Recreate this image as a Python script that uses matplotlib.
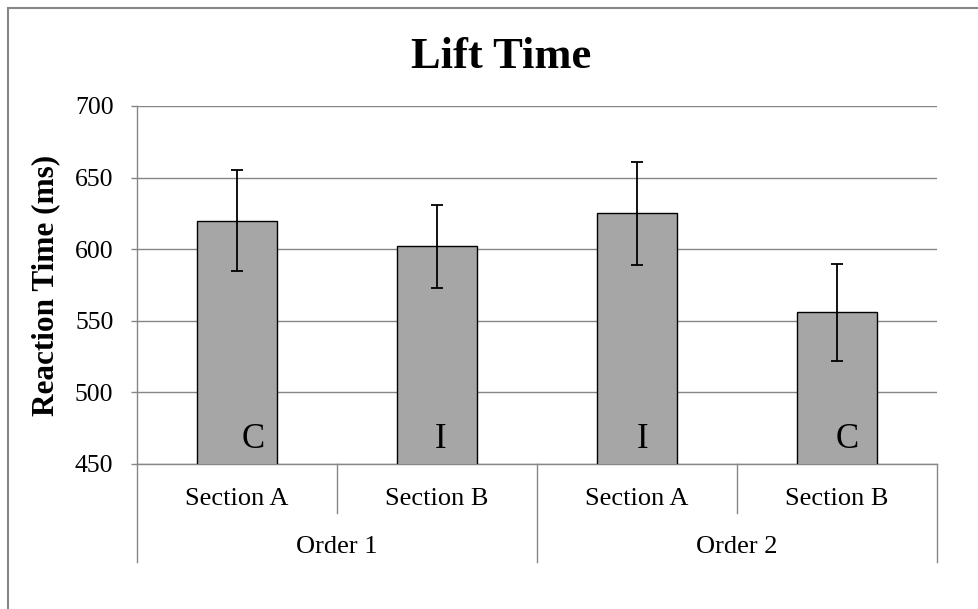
import matplotlib
matplotlib.use("Agg")
import matplotlib.pyplot as plt
from matplotlib.patches import Rectangle

# data
sections = ["Section A", "Section B", "Section A", "Section B"]
orders = ["Order 1", "Order 2"]
means = [620, 602, 625, 556]
errors = [35, 29, 36, 34]
conditions = ["C", "I", "I", "C"]
label_dx = [0.08, 0.02, 0.03, 0.05]

plt.rcParams['font.family'] = ['Liberation Serif', 'DejaVu Serif']

grey = "#868686"
fig = plt.figure(figsize=(9.79, 6.09), dpi=100)
ax = fig.add_axes([137 / 979, 1 - 464 / 609, 800 / 979, 358 / 609])

x = list(range(len(means)))
ax.bar(x, means, width=0.4, color="#a6a6a6", edgecolor="black", linewidth=1.0, zorder=3)
ax.errorbar(x, means, yerr=errors, fmt="none", ecolor="black", elinewidth=1.3,
            capsize=4.5, capthick=1.3, zorder=4)

for i, c in enumerate(conditions):
    ax.text(i + label_dx[i], 461.5, c, ha="center", va="baseline", fontsize=25, zorder=5)

ax.set_xlim(-0.5, len(means) - 0.5)
ax.set_ylim(450, 700)
ax.set_yticks(range(450, 701, 50))
ax.yaxis.grid(True, color=grey, linewidth=1.0, zorder=0)
ax.set_axisbelow(True)
ax.tick_params(axis="y", direction="out", length=4, width=1, color=grey, labelsize=18.5, pad=13)
ax.set_xticks([])
for side in ["top", "right"]:
    ax.spines[side].set_visible(False)
for side in ["left", "bottom"]:
    ax.spines[side].set_color(grey)
    ax.spines[side].set_linewidth(1.0)

ax.set_ylabel("Reaction Time (ms)", fontsize=22.5, fontweight="bold")
ax.yaxis.set_label_coords(-0.096, 0.5)

# multi-level category axis
trans = ax.get_xaxis_transform()
for b in [-0.5, 0.5, 1.5, 2.5, 3.5]:
    low = -0.274 if b in (-0.5, 1.5, 3.5) else -0.137
    ax.plot([b, b], [0, low], transform=trans, color=grey, linewidth=1.0, clip_on=False)
for i, s in enumerate(sections):
    ax.text(i, -0.098, s, transform=trans, ha="center", va="center", fontsize=19)
for j, o in enumerate(orders):
    ax.text(2 * j + 0.5, -0.233, o, transform=trans, ha="center", va="center", fontsize=19)

fig.text(501 / 979, 1 - 57 / 609, "Lift Time", ha="center", va="center",
         fontsize=32, fontweight="bold")

# chart border
fig.patches.append(Rectangle((8 / 979, -0.5), 2, 1.5 - 8 / 609, transform=fig.transFigure,
                             fill=False, edgecolor=grey, linewidth=1.5))

fig.savefig("out.png", dpi=100)
